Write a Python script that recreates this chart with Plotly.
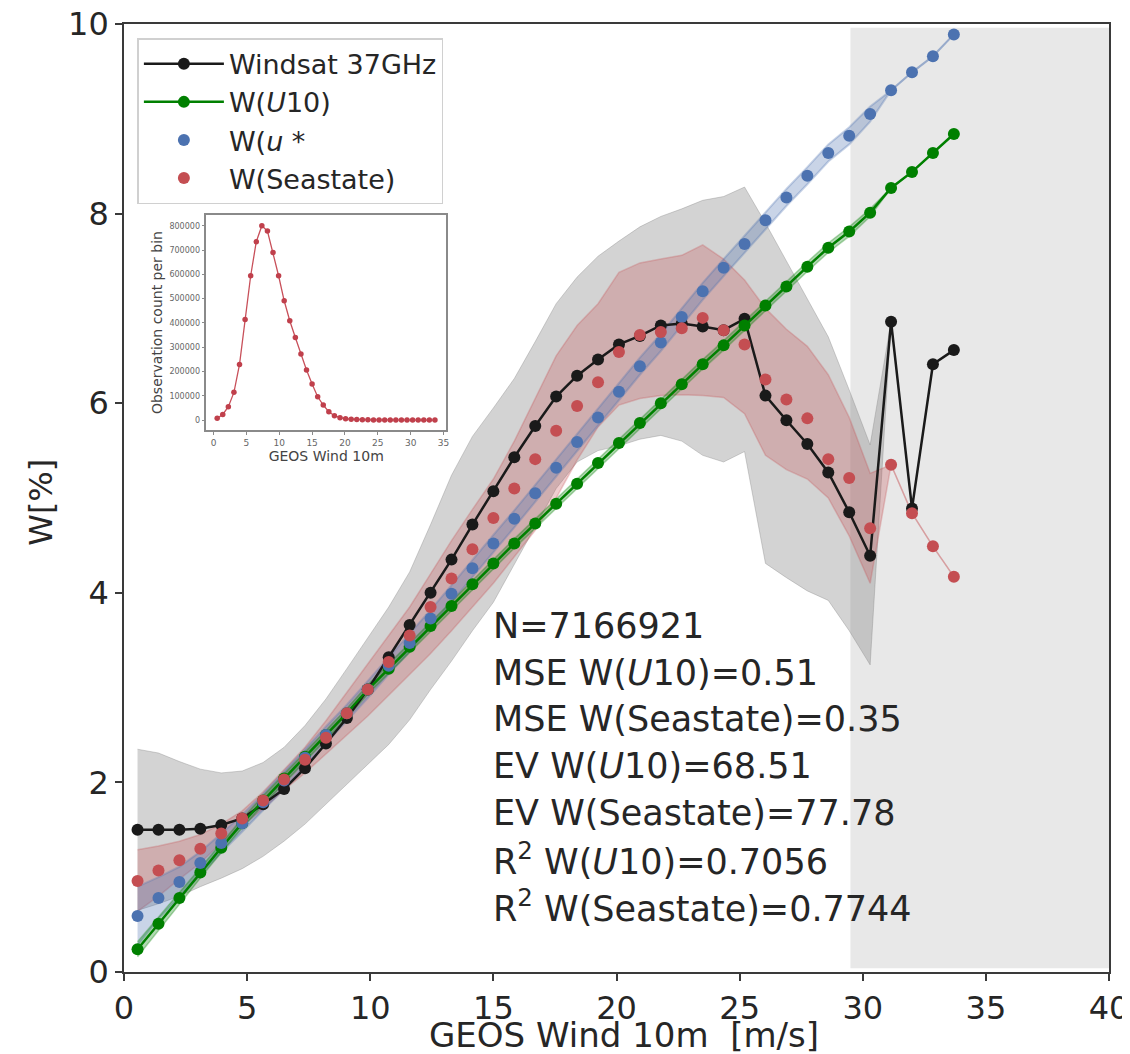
import plotly.graph_objects as go

# ---------------- data ----------------
wind = [0.55, 1.40, 2.25, 3.10, 3.95, 4.80, 5.65, 6.50, 7.35, 8.20,
        9.05, 9.90, 10.75, 11.60, 12.45, 13.30, 14.15, 15.00, 15.85, 16.70,
        17.55, 18.40, 19.25, 20.10, 20.95, 21.80, 22.65, 23.50, 24.35, 25.20,
        26.05, 26.90, 27.75, 28.60, 29.45, 30.30, 31.15, 32.00, 32.85, 33.70]

windsat = [1.50, 1.50, 1.50, 1.51, 1.55, 1.62, 1.77, 1.93, 2.15, 2.41,
           2.68, 2.98, 3.32, 3.66, 4.00, 4.35, 4.72, 5.07, 5.43, 5.76,
           6.07, 6.29, 6.46, 6.62, 6.71, 6.82, 6.84, 6.81, 6.77, 6.89,
           6.08, 5.82, 5.57, 5.27, 4.85, 4.39, 6.86, 4.89, 6.41, 6.56]
windsat_upper = [2.35, 2.31, 2.22, 2.14, 2.10, 2.12, 2.21, 2.37, 2.60, 2.88,
                 3.20, 3.52, 3.85, 4.22, 4.72, 5.24, 5.65, 5.95, 6.26, 6.65,
                 7.05, 7.33, 7.55, 7.71, 7.86, 7.97, 8.05, 8.14, 8.18, 8.28,
                 7.90, 7.50, 7.10, 6.70, 6.14, 5.56, 6.86, 4.89, 6.41, 6.56]
windsat_lower = [0.65, 0.72, 0.80, 0.90, 0.99, 1.09, 1.22, 1.38, 1.56, 1.77,
                 1.99, 2.20, 2.40, 2.66, 2.98, 3.28, 3.60, 3.90, 4.30, 4.70,
                 5.10, 5.38, 5.50, 5.55, 5.62, 5.66, 5.60, 5.45, 5.38, 5.49,
                 4.31, 4.16, 4.02, 3.92, 3.60, 3.24, 6.86, 4.89, 6.41, 6.56]

w_u10 = [0.24, 0.51, 0.78, 1.05, 1.31, 1.57, 1.81, 2.04, 2.27, 2.50,
         2.73, 2.98, 3.20, 3.43, 3.65, 3.86, 4.09, 4.31, 4.52, 4.73,
         4.94, 5.15, 5.37, 5.58, 5.79, 6.00, 6.20, 6.41, 6.61, 6.82,
         7.03, 7.23, 7.44, 7.64, 7.81, 8.01, 8.27, 8.44, 8.64, 8.84]
w_u10_sd = [0.08, 0.07, 0.06, 0.06, 0.05, 0.05, 0.05, 0.05, 0.05, 0.05,
            0.05, 0.05, 0.05, 0.05, 0.05, 0.05, 0.05, 0.05, 0.05, 0.05,
            0.05, 0.05, 0.05, 0.05, 0.05, 0.05, 0.05, 0.05, 0.05, 0.05,
            0.05, 0.05, 0.05, 0.05, 0.05, 0.04, 0.00, 0.00, 0.00, 0.00]

w_ustar = [0.59, 0.78, 0.95, 1.15, 1.36, 1.57, 1.79, 2.02, 2.26, 2.50,
           2.73, 2.98, 3.23, 3.47, 3.73, 3.99, 4.26, 4.52, 4.78, 5.05,
           5.32, 5.59, 5.85, 6.12, 6.39, 6.64, 6.91, 7.18, 7.43, 7.68,
           7.93, 8.17, 8.40, 8.64, 8.82, 9.05, 9.30, 9.49, 9.66, 9.89]
w_ustar_sd = [0.31, 0.22, 0.16, 0.12, 0.10, 0.09, 0.09, 0.09, 0.09, 0.09,
              0.09, 0.09, 0.09, 0.09, 0.09, 0.09, 0.09, 0.09, 0.09, 0.09,
              0.09, 0.09, 0.09, 0.09, 0.09, 0.09, 0.09, 0.09, 0.09, 0.09,
              0.09, 0.09, 0.09, 0.09, 0.09, 0.08, 0.00, 0.00, 0.00, 0.00]

w_sea = [0.96, 1.07, 1.18, 1.30, 1.46, 1.62, 1.81, 2.03, 2.24, 2.47,
         2.73, 2.98, 3.27, 3.55, 3.85, 4.15, 4.46, 4.79, 5.10, 5.41,
         5.71, 5.97, 6.22, 6.54, 6.72, 6.75, 6.79, 6.90, 6.77, 6.62,
         6.25, 6.04, 5.84, 5.41, 5.21, 4.68, 5.35, 4.84, 4.49, 4.17]
w_sea_upper = [1.29, 1.33, 1.38, 1.45, 1.56, 1.70, 1.90, 2.13, 2.37, 2.65,
               2.95, 3.26, 3.56, 3.85, 4.20, 4.55, 4.88, 5.20, 5.60, 6.05,
               6.50, 6.82, 7.05, 7.38, 7.48, 7.52, 7.56, 7.67, 7.52, 7.30,
               7.00, 6.78, 6.60, 6.30, 5.85, 5.26, 5.35, 4.84, 4.49, 4.17]
w_sea_lower = [0.64, 0.80, 0.98, 1.15, 1.36, 1.54, 1.72, 1.92, 2.10, 2.30,
               2.50, 2.70, 2.92, 3.14, 3.36, 3.60, 3.85, 4.10, 4.38, 4.66,
               5.00, 5.40, 5.75, 5.98, 6.05, 6.08, 6.09, 6.08, 6.06, 5.89,
               5.45, 5.30, 5.20, 5.00, 4.60, 4.10, 5.35, 4.84, 4.49, 4.17]

obs_count = [7000, 23000, 55000, 114000, 229000, 414000, 594000, 734000, 800000, 778000,
             690000, 594000, 491000, 409000, 340000, 272000, 206000, 148000, 96000, 62000,
             34000, 18000, 9600, 5500, 3500, 2200, 1500, 1000, 700, 500,
             350, 250, 180, 120, 80, 50, 30, 20, 15, 10]

x_ticks = [0, 5, 10, 15, 20, 25, 30, 35, 40]
y_ticks = [0, 2, 4, 6, 8, 10]
inset_x_ticks = [0, 5, 10, 15, 20, 25, 30, 35]
inset_y_ticks = [0, 100000, 200000, 300000, 400000, 500000, 600000, 700000, 800000]

shade_start = 29.5
shade_end = 40

x_title = "GEOS Wind 10m\u00a0\u00a0[m/s]"
y_title = "W[%]"
stats_lines = [
    "N=7166921",
    "MSE W(<i>U</i>10)=0.51",
    "MSE W(Seastate)=0.35",
    "EV W(<i>U</i>10)=68.51",
    "EV W(Seastate)=77.78",
    "R<sup>2</sup> W(<i>U</i>10)=0.7056",
    "R<sup>2</sup> W(Seastate)=0.7744",
]

# ---------------- styling ----------------
FONT = "DejaVu Sans"
TXT = "#262626"
BLACK = "#1a1a1a"
GREEN = "#008000"
BLUE = "#4C72B0"
RED = "#C44E52"


def band(x, lo, hi, fill, edge, edge_w):
    return [
        go.Scatter(x=x, y=lo, mode="lines", line=dict(color=edge, width=edge_w),
                   showlegend=False, hoverinfo="skip"),
        go.Scatter(x=x, y=hi, mode="lines", line=dict(color=edge, width=edge_w),
                   fill="tonexty", fillcolor=fill, showlegend=False, hoverinfo="skip"),
    ]


fig = go.Figure()

for t in band(wind, windsat_lower, windsat_upper, "rgba(128,128,128,0.35)",
              "rgba(128,128,128,0.35)", 1):
    fig.add_trace(t)
for t in band(wind, w_sea_lower, w_sea_upper, "rgba(196,78,82,0.28)",
              "rgba(196,78,82,0.28)", 1.5):
    fig.add_trace(t)
ustar_lo = [m - s for m, s in zip(w_ustar, w_ustar_sd)]
ustar_hi = [m + s for m, s in zip(w_ustar, w_ustar_sd)]
for t in band(wind, ustar_lo, ustar_hi, "rgba(76,114,176,0.3)",
              "rgba(76,114,176,0.3)", 2):
    fig.add_trace(t)
u10_lo = [m - s for m, s in zip(w_u10, w_u10_sd)]
u10_hi = [m + s for m, s in zip(w_u10, w_u10_sd)]
for t in band(wind, u10_lo, u10_hi, "rgba(0,128,0,0.3)", "rgba(0,128,0,0.3)", 1.5):
    fig.add_trace(t)

fig.add_trace(go.Scatter(x=wind, y=windsat, mode="lines+markers", name="Windsat 37GHz",
                         line=dict(color=BLACK, width=2.5),
                         marker=dict(color=BLACK, size=12)))
fig.add_trace(go.Scatter(x=wind, y=w_u10, mode="lines+markers", name="W(<i>U</i>10)",
                         line=dict(color=GREEN, width=2.5),
                         marker=dict(color=GREEN, size=12)))
fig.add_trace(go.Scatter(x=wind, y=w_ustar, mode="markers", name="W(<i>u</i> *",
                         marker=dict(color=BLUE, size=12)))
fig.add_trace(go.Scatter(x=wind, y=w_sea, mode="markers", name="W(Seastate)",
                         marker=dict(color=RED, size=12)))

# inset: observation count per bin
fig.add_trace(go.Scatter(x=wind, y=obs_count, mode="lines+markers", xaxis="x2", yaxis="y2",
                         line=dict(color="#c8505a", width=1.3),
                         marker=dict(color="#c0404c", size=5.5), showlegend=False))

fig.add_shape(type="rect", xref="x", yref="paper", x0=shade_start, x1=shade_end,
              y0=0.004, y1=0.996, fillcolor="#e8e8e8", line=dict(width=0), layer="below")

ann_top = 0.3650
ann_step = 0.0492
for k, s in enumerate(stats_lines):
    fig.add_annotation(xref="paper", yref="paper", x=0.3725, y=ann_top - k * ann_step,
                       text=s, showarrow=False, xanchor="left", yanchor="middle",
                       font=dict(family=FONT, size=35, color=TXT))

# axis titles as annotations for exact placement
fig.add_annotation(xref="paper", yref="paper", x=0.5076, y=-0.0665, text=x_title,
                   showarrow=False, xanchor="center", yanchor="middle",
                   font=dict(family=FONT, size=34, color=TXT))
fig.add_annotation(xref="paper", yref="paper", x=-0.0843, y=0.496, text=y_title,
                   showarrow=False, xanchor="center", yanchor="middle", textangle=-90,
                   font=dict(family=FONT, size=32, color=TXT))

axis_common = dict(showgrid=False, zeroline=False, showline=True, linecolor="#3a3a3a",
                   linewidth=1.6, mirror=True, ticks="outside", ticklen=7, tickwidth=1.5,
                   tickcolor="#3a3a3a", automargin=False, ticklabeloverflow="allow",
                   tickfont=dict(family=FONT, size=32, color=TXT))

fig.update_layout(
    width=1122, height=1046,
    margin=dict(l=116, r=21, t=16, b=82),
    paper_bgcolor="white", plot_bgcolor="white",
    font=dict(family=FONT, color=TXT),
    showlegend=True,
    legend=dict(x=0.0136, y=0.985, xanchor="left", yanchor="top", traceorder="normal",
                bgcolor="rgba(255,255,255,0.9)", bordercolor="#d0d0d0", borderwidth=1.5,
                font=dict(family=FONT, size=27, color=TXT), itemwidth=80,
                tracegroupgap=4),
    xaxis=dict(range=[0, 40], tickvals=x_ticks, **axis_common),
    yaxis=dict(range=[0, 10], tickvals=y_ticks, **axis_common),
    xaxis2=dict(domain=[0.0836, 0.327], anchor="y2", range=[-1.1, 35.4],
                tickvals=inset_x_ticks, showgrid=False, zeroline=False, showline=True,
                linecolor="#8a8a8a", linewidth=1.5, mirror=True, ticks="outside",
                ticklen=3, tickcolor="#8a8a8a", automargin=False,
                tickfont=dict(family=FONT, size=9, color="#666666"),
                title=dict(text="GEOS Wind 10m", font=dict(family=FONT, size=14, color="#444444"),
                           standoff=4)),
    yaxis2=dict(domain=[0.5717, 0.7985], anchor="x2", range=[-41000, 844000],
                tickvals=inset_y_ticks, tickformat="d", showgrid=False, zeroline=False,
                showline=True, linecolor="#8a8a8a", linewidth=1.5, mirror=True,
                ticks="outside", ticklen=3, tickcolor="#8a8a8a", automargin=False,
                tickfont=dict(family=FONT, size=8, color="#666666"),
                title=dict(text="Observation count per bin",
                           font=dict(family=FONT, size=14, color="#444444"), standoff=4)),
)

fig.write_html("out.html")
